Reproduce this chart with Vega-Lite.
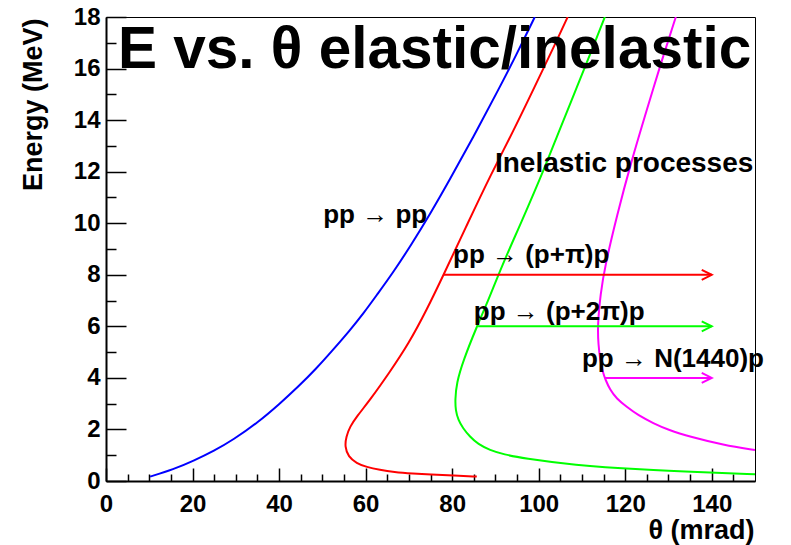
{
  "$schema": "https://vega.github.io/schema/vega-lite/v6.json",
  "width": 649,
  "height": 464,
  "autosize": {"type": "none"},
  "padding": {"left": 106, "top": 17, "right": 36, "bottom": 64},
  "background": "white",
  "config": {
    "view": {"stroke": "#000", "strokeWidth": 1},
    "font": "Liberation Sans",
    "axis": {
      "domainColor": "#000",
      "domainWidth": 2,
      "tickColor": "#000",
      "tickWidth": 1.5,
      "labelFont": "Liberation Sans",
      "labelFontWeight": "bold",
      "labelFontSize": 24,
      "labelColor": "#000",
      "labelOverlap": false,
      "labelFlush": false,
      "labelBound": false,
      "titleFont": "Liberation Sans",
      "titleFontWeight": "bold",
      "titleColor": "#000",
      "grid": false
    }
  },
  "title": {
    "text": "E vs. θ elastic/inelastic",
    "anchor": "start",
    "frame": "group",
    "dx": 12,
    "offset": -121,
    "baseline": "alphabetic",
    "fontSize": 58.5,
    "font": "Liberation Sans",
    "fontWeight": "bold",
    "color": "#000"
  },
  "datasets": {
    "curves": [
      {"s": "elastic", "i": 1, "x": 10.2, "y": 0.17},
      {"s": "elastic", "i": 2, "x": 15.6, "y": 0.45},
      {"s": "elastic", "i": 3, "x": 20.2, "y": 0.78},
      {"s": "elastic", "i": 4, "x": 25.0, "y": 1.17},
      {"s": "elastic", "i": 5, "x": 29.4, "y": 1.6},
      {"s": "elastic", "i": 6, "x": 35.0, "y": 2.26},
      {"s": "elastic", "i": 7, "x": 40.1, "y": 2.99},
      {"s": "elastic", "i": 8, "x": 44.5, "y": 3.67},
      {"s": "elastic", "i": 9, "x": 48.7, "y": 4.38},
      {"s": "elastic", "i": 10, "x": 52.0, "y": 5.0},
      {"s": "elastic", "i": 11, "x": 56.4, "y": 5.85},
      {"s": "elastic", "i": 12, "x": 59.5, "y": 6.5},
      {"s": "elastic", "i": 13, "x": 62.6, "y": 7.22},
      {"s": "elastic", "i": 14, "x": 66.4, "y": 8.1},
      {"s": "elastic", "i": 15, "x": 70.5, "y": 9.15},
      {"s": "elastic", "i": 16, "x": 74.9, "y": 10.35},
      {"s": "elastic", "i": 17, "x": 79.5, "y": 11.7},
      {"s": "elastic", "i": 18, "x": 84.9, "y": 13.35},
      {"s": "elastic", "i": 19, "x": 90.3, "y": 15.05},
      {"s": "elastic", "i": 20, "x": 94.9, "y": 16.55},
      {"s": "elastic", "i": 21, "x": 99.1, "y": 18.0},

      {"s": "pi", "i": 1, "x": 85.7, "y": 0.17},
      {"s": "pi", "i": 2, "x": 80.3, "y": 0.21},
      {"s": "pi", "i": 3, "x": 75.0, "y": 0.25},
      {"s": "pi", "i": 4, "x": 71.0, "y": 0.29},
      {"s": "pi", "i": 5, "x": 66.5, "y": 0.35},
      {"s": "pi", "i": 6, "x": 63.3, "y": 0.43},
      {"s": "pi", "i": 7, "x": 60.2, "y": 0.54},
      {"s": "pi", "i": 8, "x": 57.9, "y": 0.69},
      {"s": "pi", "i": 9, "x": 56.0, "y": 0.94},
      {"s": "pi", "i": 10, "x": 55.2, "y": 1.33},
      {"s": "pi", "i": 11, "x": 55.5, "y": 1.72},
      {"s": "pi", "i": 12, "x": 56.4, "y": 2.11},
      {"s": "pi", "i": 13, "x": 57.9, "y": 2.49},
      {"s": "pi", "i": 14, "x": 61.0, "y": 3.14},
      {"s": "pi", "i": 15, "x": 65.4, "y": 4.18},
      {"s": "pi", "i": 16, "x": 70.0, "y": 5.34},
      {"s": "pi", "i": 17, "x": 74.1, "y": 6.63},
      {"s": "pi", "i": 18, "x": 78.0, "y": 7.99},
      {"s": "pi", "i": 19, "x": 83.6, "y": 10.0},
      {"s": "pi", "i": 20, "x": 89.1, "y": 11.94},
      {"s": "pi", "i": 21, "x": 93.9, "y": 13.49},
      {"s": "pi", "i": 22, "x": 99.1, "y": 15.3},
      {"s": "pi", "i": 23, "x": 103.9, "y": 16.98},
      {"s": "pi", "i": 24, "x": 106.7, "y": 18.0},

      {"s": "2pi", "i": 1, "x": 150.0, "y": 0.26},
      {"s": "2pi", "i": 2, "x": 138.8, "y": 0.33},
      {"s": "2pi", "i": 3, "x": 123.4, "y": 0.44},
      {"s": "2pi", "i": 4, "x": 108.0, "y": 0.62},
      {"s": "2pi", "i": 5, "x": 96.4, "y": 0.88},
      {"s": "2pi", "i": 6, "x": 92.0, "y": 1.03},
      {"s": "2pi", "i": 7, "x": 88.7, "y": 1.2},
      {"s": "2pi", "i": 8, "x": 86.0, "y": 1.43},
      {"s": "2pi", "i": 9, "x": 84.1, "y": 1.72},
      {"s": "2pi", "i": 10, "x": 82.5, "y": 2.05},
      {"s": "2pi", "i": 11, "x": 81.4, "y": 2.37},
      {"s": "2pi", "i": 12, "x": 80.8, "y": 2.75},
      {"s": "2pi", "i": 13, "x": 80.7, "y": 3.14},
      {"s": "2pi", "i": 14, "x": 81.0, "y": 3.79},
      {"s": "2pi", "i": 15, "x": 82.6, "y": 4.69},
      {"s": "2pi", "i": 16, "x": 85.7, "y": 5.99},
      {"s": "2pi", "i": 17, "x": 88.4, "y": 7.02},
      {"s": "2pi", "i": 18, "x": 91.4, "y": 8.31},
      {"s": "2pi", "i": 19, "x": 95.9, "y": 10.0},
      {"s": "2pi", "i": 20, "x": 101.5, "y": 12.19},
      {"s": "2pi", "i": 21, "x": 104.5, "y": 13.49},
      {"s": "2pi", "i": 22, "x": 108.9, "y": 15.3},
      {"s": "2pi", "i": 23, "x": 112.6, "y": 16.85},
      {"s": "2pi", "i": 24, "x": 115.3, "y": 18.0},

      {"s": "N1440", "i": 1, "x": 150.0, "y": 1.2},
      {"s": "N1440", "i": 2, "x": 142.7, "y": 1.4},
      {"s": "N1440", "i": 3, "x": 135.0, "y": 1.72},
      {"s": "N1440", "i": 4, "x": 130.0, "y": 1.98},
      {"s": "N1440", "i": 5, "x": 126.5, "y": 2.24},
      {"s": "N1440", "i": 6, "x": 123.0, "y": 2.55},
      {"s": "N1440", "i": 7, "x": 120.3, "y": 2.88},
      {"s": "N1440", "i": 8, "x": 118.0, "y": 3.2},
      {"s": "N1440", "i": 9, "x": 116.5, "y": 3.53},
      {"s": "N1440", "i": 10, "x": 115.4, "y": 3.95},
      {"s": "N1440", "i": 11, "x": 114.9, "y": 4.18},
      {"s": "N1440", "i": 12, "x": 114.2, "y": 4.69},
      {"s": "N1440", "i": 13, "x": 113.8, "y": 5.3},
      {"s": "N1440", "i": 14, "x": 113.6, "y": 5.99},
      {"s": "N1440", "i": 15, "x": 114.3, "y": 7.28},
      {"s": "N1440", "i": 16, "x": 115.3, "y": 8.31},
      {"s": "N1440", "i": 17, "x": 118.0, "y": 10.25},
      {"s": "N1440", "i": 18, "x": 121.5, "y": 12.45},
      {"s": "N1440", "i": 19, "x": 125.0, "y": 14.4},
      {"s": "N1440", "i": 20, "x": 128.0, "y": 16.07},
      {"s": "N1440", "i": 21, "x": 131.7, "y": 18.0}
    ],
    "arrows": [
      {"s": "pi", "x": 77.9, "x2": 140, "y": 8.0},
      {"s": "2pi", "x": 86.0, "x2": 140, "y": 6.0},
      {"s": "N1440", "x": 115.3, "x2": 140, "y": 4.0}
    ],
    "labels": [
      {"t": "pp → pp", "x": 50.2, "y": 10.0},
      {"t": "pp → (p+π)p", "x": 80.2, "y": 8.45},
      {"t": "pp → (p+2π)p", "x": 85.0, "y": 6.25},
      {"t": "pp → N(1440)p", "x": 110.0, "y": 4.43}
    ],
    "heading": [
      {"t": "Inelastic processes", "x": 89.9, "y": 12.0}
    ]
  },
  "encoding": {
    "x": {
      "field": "x",
      "type": "quantitative",
      "scale": {"domain": [0, 150], "nice": false, "zero": false},
      "axis": {
        "title": "θ (mrad)",
        "titleFontSize": 27,
        "titleAnchor": "end",
        "titleAlign": "right",
        "titleBaseline": "alphabetic",
        "titleX": 648,
        "titleY": 57,
        "format": "d",
        "values": [0,5,10,15,20,25,30,35,40,45,50,55,60,65,70,75,80,85,90,95,100,105,110,115,120,125,130,135,140,145],
        "labelExpr": "datum.value % 20 === 0 ? datum.label : ''",
        "tickSize": {"condition": {"test": "datum.value % 20 === 0", "value": -13}, "value": -7},
        "labelPadding": 24
      }
    },
    "y": {
      "field": "y",
      "type": "quantitative",
      "scale": {"domain": [0, 18], "nice": false, "zero": false},
      "axis": {
        "title": "Energy (MeV)",
        "titleFontSize": 27,
        "titleAnchor": "end",
        "titleAngle": 270,
        "titleAlign": "right",
        "titleBaseline": "middle",
        "titleX": -73,
        "titleY": 1,
        "format": "d",
        "values": [0,0.5,1,1.5,2,2.5,3,3.5,4,4.5,5,5.5,6,6.5,7,7.5,8,8.5,9,9.5,10,10.5,11,11.5,12,12.5,13,13.5,14,14.5,15,15.5,16,16.5,17,17.5,18],
        "labelExpr": "datum.value % 2 === 0 ? datum.label : ''",
        "tickSize": {"condition": {"test": "datum.value % 2 === 0", "value": -20}, "value": -10},
        "labelPadding": 26
      }
    }
  },
  "layer": [
    {
      "data": {"name": "curves"},
      "mark": {"type": "line", "strokeWidth": 2, "clip": true, "interpolate": "basis"},
      "encoding": {
        "order": {"field": "i", "type": "quantitative"},
        "color": {
          "field": "s",
          "type": "nominal",
          "scale": {"domain": ["elastic", "pi", "2pi", "N1440"], "range": ["#0000ff", "#ff0000", "#00ff00", "#ff00ff"]},
          "legend": null
        }
      }
    },
    {
      "data": {"name": "arrows"},
      "mark": {"type": "rule", "strokeWidth": 2},
      "encoding": {
        "x2": {"field": "x2"},
        "color": {"field": "s", "type": "nominal", "legend": null}
      }
    },
    {
      "data": {"name": "arrows"},
      "mark": {"type": "point", "shape": "M-1,-0.5L0,0L-1,0.5", "size": 400, "filled": false, "strokeWidth": 2, "opacity": 1},
      "encoding": {
        "x": {"field": "x2", "type": "quantitative"},
        "color": {"field": "s", "type": "nominal", "legend": null}
      }
    },
    {
      "data": {"name": "labels"},
      "mark": {"type": "text", "align": "left", "baseline": "alphabetic", "font": "Liberation Sans", "fontWeight": "bold", "fontSize": 26, "color": "#000"},
      "encoding": {
        "text": {"field": "t"}
      }
    },
    {
      "data": {"name": "heading"},
      "mark": {"type": "text", "align": "left", "baseline": "alphabetic", "font": "Liberation Sans", "fontWeight": "bold", "fontSize": 28, "color": "#000"},
      "encoding": {
        "text": {"field": "t"}
      }
    }
  ]
}
